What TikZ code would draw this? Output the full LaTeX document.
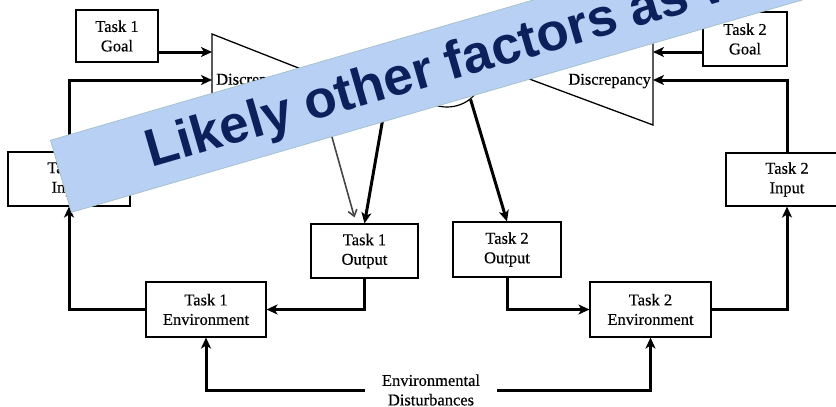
\documentclass[tikz,border=0pt]{standalone}
\usepackage{fontspec}
\setmainfont{Liberation Serif}
\newfontfamily\boxfont[FakeBold=0.35]{Liberation Serif}
\newfontfamily\bannerfont{Liberation Sans}
\usetikzlibrary{arrows.meta,shapes.geometric,calc}

\definecolor{bannerfill}{RGB}{185,208,245}
\definecolor{banneredge}{RGB}{165,195,205}
\definecolor{bannerink}{RGB}{12,32,92}
\definecolor{grayline}{RGB}{70,70,70}

\tikzset{
  box/.style={draw, line width=1.1pt, align=center, inner sep=0pt,
    font=\boxfont\fontsize{16.5}{19.5}\selectfont},
  label/.style={inner sep=0pt, font=\boxfont\fontsize{16.5}{19.5}\selectfont},
  comparator/.style={draw, line width=1.3pt, line join=miter},
  flow/.style={line width=3pt, -{Stealth[length=11pt,width=10pt,inset=3pt]}},
  grayflow/.style={line width=1.6pt, draw=grayline,
    -{Straight Barb[length=6pt,width=9pt,line width=1.6pt]}},
}

\begin{document}
\begin{tikzpicture}[x=1pt, y=-1pt]
  \useasboundingbox (0,0) rectangle (836,407);
  \clip (0,0) rectangle (836,407);
  \fill[white] (0,0) rectangle (836,407);

  % goals, inputs, outputs and environments
  \node[box, minimum width=82pt, minimum height=52pt] (goal1) at (117,36) {Task 1\\Goal};
  \node[box, minimum width=84pt, minimum height=54pt] (goal2) at (745,39) {Task 2\\Goal};
  \node[box, minimum width=122pt, minimum height=54pt] (in1) at (69,179) {Task 1\\Input};
  \node[box, minimum width=122pt, minimum height=53pt] (in2) at (787,179.5) {Task 2\\Input};
  \node[box, minimum width=107pt, minimum height=54pt] (out1) at (364.5,251) {Task 1\\Output};
  \node[box, minimum width=108pt, minimum height=55pt] (out2) at (507,249.5) {Task 2\\Output};
  \node[box, minimum width=120pt, minimum height=55pt] (env1) at (206,309.5) {Task 1\\Environment};
  \node[box, minimum width=121pt, minimum height=55pt] (env2) at (650.5,309.5) {Task 2\\Environment};
  \node[label, align=center, inner xsep=17pt] (dist) at (431,390) {Environmental\\Disturbances};

  % comparators
  \coordinate (d1top) at (212,34);
  \coordinate (d1bot) at (212,126);
  \coordinate (d1tip) at (329,80);
  \coordinate (d1goal) at (212,52);
  \coordinate (d1in) at (212,80);
  \draw[comparator] (d1top) -- (d1bot) -- (d1tip) -- cycle;
  \node[label, anchor=west] (lab1) at (216,81) {Discrepancy};

  \coordinate (d2top) at (653,32);
  \coordinate (d2bot) at (653,125);
  \coordinate (d2tip) at (528,78.5);
  \coordinate (d2goal) at (653,52);
  \coordinate (d2in) at (653,80);
  \draw[comparator] (d2top) -- (d2bot) -- (d2tip) -- cycle;
  \node[label, anchor=east] (lab2) at (651,81) {Discrepancy};

  % shared element between the two loops
  \node[draw, ellipse, line width=1.2pt, inner sep=0pt,
        minimum width=70pt, minimum height=64pt] (hub) at (447,75) {};
  \coordinate (o1) at (391,72);
  \coordinate (g1) at (316,80);

  % connectors
  \draw[flow] (goal1.east |- d1goal) -- (d1goal);
  \draw[flow] (goal2.west |- d2goal) -- (d2goal);
  \draw[flow] (in1.north) |- (d1in);
  \draw[flow] (in2.north) |- (d2in);
  \draw[grayflow] (g1) -- ([xshift=-10pt,yshift=6pt]out1.north);
  \draw[flow] (o1) -- (out1.north);
  \draw[flow] (hub.-46) -- (out2.north);
  \draw[flow] (out1.south) |- (env1.east);
  \draw[flow] (env1.west) -| (in1.south);
  \draw[flow] (out2.south) |- (env2.west);
  \draw[flow] (env2.east) -| (in2.south);
  \draw[flow] (dist.west) -| (env1.south);
  \draw[flow] (dist.east) -| (env2.south);

  % overlaid banner
  \node[rotate=16.2, anchor=north west, fill=bannerfill, draw=banneredge,
        line width=0.8pt, minimum width=1000pt, minimum height=75pt,
        inner sep=0pt] (banner) at (50,140) {};
  \node[rotate=16.2, anchor=base west, inner sep=0pt, text=bannerink,
        font=\bannerfont\bfseries\fontsize{53}{60}\selectfont]
        (bannertext) at (151,168) {Likely other factors as well};
\end{tikzpicture}
\end{document}
